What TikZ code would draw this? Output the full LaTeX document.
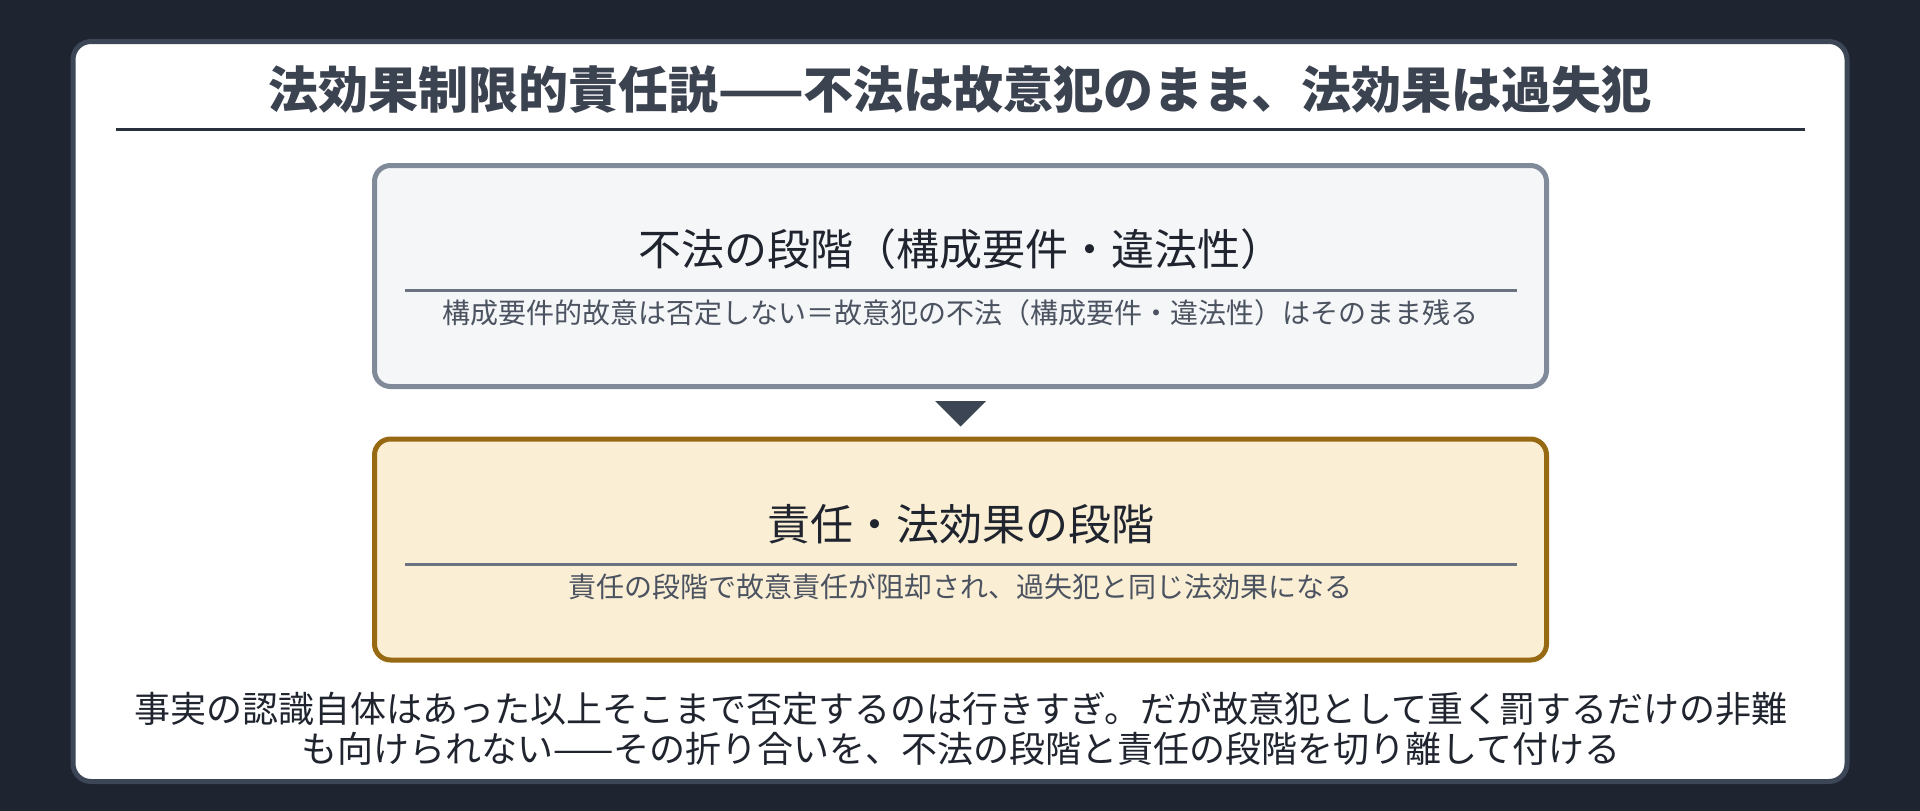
\documentclass[tikz,border=0pt]{standalone}
\usepackage{fontspec}
\setmainfont{Noto Sans CJK JP}
\usepackage{tikz}
\usetikzlibrary{calc}

\definecolor{bgdark}{HTML}{1E2430}
\definecolor{panelline}{HTML}{3C4656}
\definecolor{titletext}{HTML}{3B4250}
\definecolor{titlerule}{HTML}{2B313C}
\definecolor{unlawline}{HTML}{808A99}
\definecolor{unlawfill}{HTML}{F4F6F8}
\definecolor{liabline}{HTML}{976912}
\definecolor{liabfill}{HTML}{FAEFD5}
\definecolor{headtext}{HTML}{1F242E}
\definecolor{notetext}{HTML}{4B5260}
\definecolor{rulegray}{HTML}{6B7280}
\definecolor{arrowdark}{HTML}{3B4554}

\begin{document}
\begin{tikzpicture}[x=1pt,y=-1pt,every node/.style={inner sep=0pt},
  stagebox/.style={draw,rounded corners=16pt,line width=5pt,minimum width=1172pt,minimum height=221pt},
  stagehead/.style={font=\fontsize{43}{50}\selectfont,text=headtext},
  stagenote/.style={font=\fontsize{28}{34}\selectfont,text=notetext},
  stagerule/.style={draw=rulegray,line width=3pt}]
\useasboundingbox (0,0) rectangle (1920,811);
\fill[bgdark] (0,0) rectangle (1920,811);
\draw[draw=panelline,fill=white,line width=5pt,rounded corners=18pt] (73,41.5) rectangle (1847,781.5);

\node[font=\fontsize{50}{60}\selectfont\bfseries,text=titletext] (title) at (960,89) {法効果制限的責任説——不法は故意犯のまま、法効果は過失犯};
\draw[titlerule,line width=3pt] (116,129) -- (1805,129);

\node[stagebox,draw=unlawline,fill=unlawfill] (unlaw) at (960.5,276) {};
\node[stagehead] (unlawhead) at (960.5,249) {不法の段階（構成要件・違法性）};
\draw[stagerule] (405,290) -- (1517,290);
\node[stagenote] (unlawnote) at (960.5,313) {構成要件的故意は否定しない＝故意犯の不法（構成要件・違法性）はそのまま残る};

\node[stagebox,draw=liabline,fill=liabfill] (liab) at (960.5,549.5) {};
\node[stagehead] (liabhead) at (960.5,524) {責任・法効果の段階};
\draw[stagerule] (405,564) -- (1517,564);
\node[stagenote] (liabnote) at (960.5,587) {責任の段階で故意責任が阻却され、過失犯と同じ法効果になる};

\fill[arrowdark] ($(unlaw.south)+(-25.5,12)$) -- ($(unlaw.south)+(25.5,12)$) -- ($(liab.north)+(0,-10)$) -- cycle;

\node[font=\fontsize{36}{40}\selectfont,text=headtext,align=center] (moral) at (961,729)
  {事実の認識自体はあった以上そこまで否定するのは行きすぎ。だが故意犯として重く罰するだけの非難\\
   も向けられない——その折り合いを、不法の段階と責任の段階を切り離して付ける};
\end{tikzpicture}
\end{document}
